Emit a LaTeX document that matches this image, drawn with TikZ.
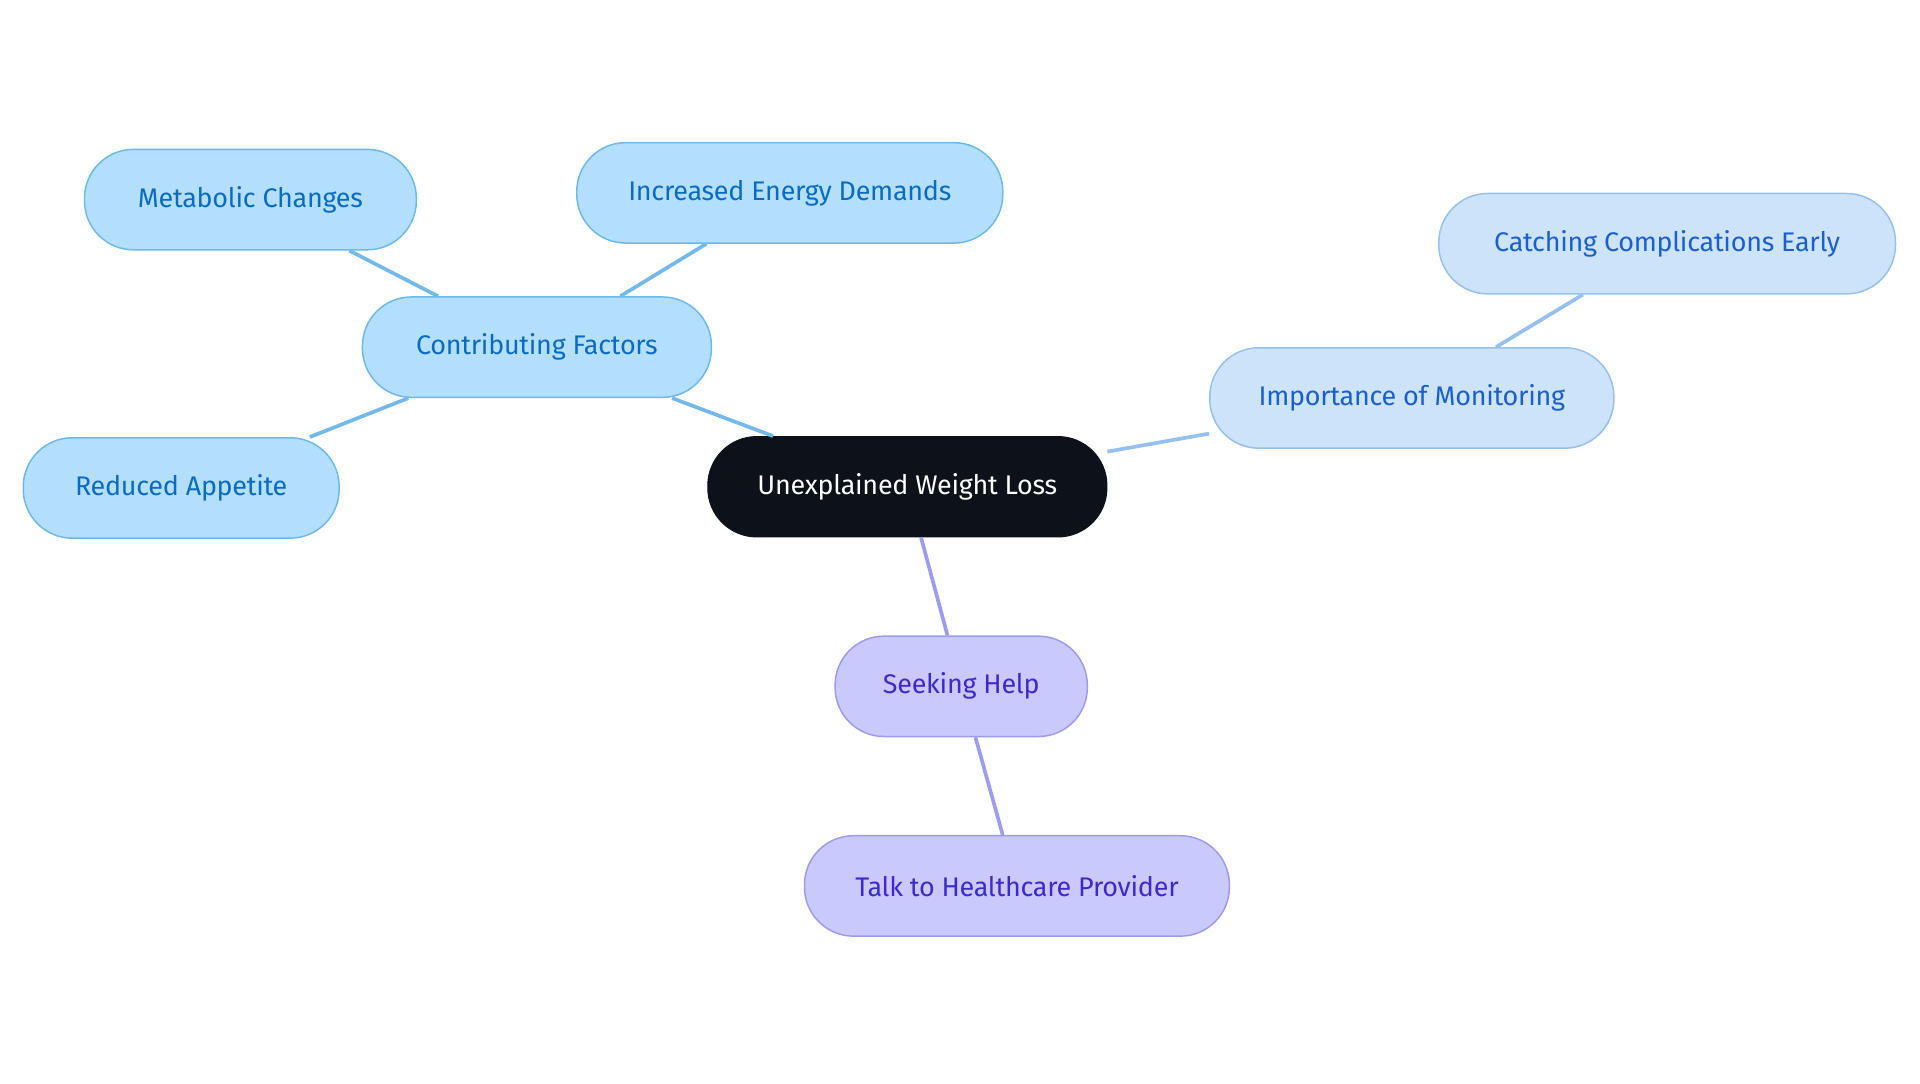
\documentclass[tikz,border=0pt]{standalone}
\usepackage{fontspec}
\setmainfont{Fira Sans}
\begin{document}
\begin{tikzpicture}[x=0.5pt,y=-0.5pt,
 box/.style={rounded corners=20pt,minimum height=41pt,font=\fontsize{11}{13}\selectfont\addfontfeature{LetterSpace=-1}},
 blue/.style={box,fill=cB,draw=dB,text=tB,line width=0.6pt},
 lb/.style={box,fill=cL,draw=dL,text=tL,line width=0.6pt},
 pu/.style={box,fill=cP,draw=dP,text=tP,line width=0.6pt},
 eb/.style={draw=eB,line width=1.5pt},
 el/.style={draw=dL,line width=1.5pt},
 ep/.style={draw=eP,line width=1.5pt}]
\definecolor{cB}{HTML}{B3DFFD}\definecolor{dB}{HTML}{6CB9EE}\definecolor{tB}{HTML}{0A6BC4}
\definecolor{cL}{HTML}{CDE3FA}\definecolor{dL}{HTML}{95C0EF}\definecolor{tL}{HTML}{1A5FCF}
\definecolor{cP}{HTML}{C9C9FD}\definecolor{dP}{HTML}{9B9BEF}\definecolor{tP}{HTML}{3A2BD0}
\definecolor{eB}{HTML}{74B9EC}\definecolor{eP}{HTML}{9A9DF0}\definecolor{cC}{HTML}{0C111A}
\useasboundingbox (0,0) rectangle (1568,885);
\node[blue,minimum width=135.5pt] (met) at (204.5,163) {Metabolic Changes};
\node[blue,minimum width=174pt] (inc) at (645,157.5) {Increased Energy Demands};
\node[blue,minimum width=142.5pt] (con) at (438.5,283.5) {Contributing Factors};
\node[blue,minimum width=129pt] (red) at (148,398.5) {Reduced Appetite};
\node[box,fill=cC,draw=cC,text=white,minimum width=163pt] (cen) at (741,397.5) {Unexplained Weight Loss};
\node[lb,minimum width=165pt] (imp) at (1153,325) {Importance of Monitoring};
\node[lb,minimum width=186.5pt] (cat) at (1361.5,199) {Catching Complications Early};
\node[pu,minimum width=103pt] (see) at (785,560.5) {Seeking Help};
\node[pu,minimum width=173.5pt] (tal) at (830.5,723.5) {Talk to Healthcare Provider};
\draw[eb] (con) -- (cen);
\draw[eb] (con) -- (met);
\draw[eb] (con) -- (inc);
\draw[eb] (con) -- (red);
\draw[el] (cen) -- (imp);
\draw[el] (imp) -- (cat);
\draw[ep] (cen) -- (see);
\draw[ep] (see) -- (tal);
\end{tikzpicture}
\end{document}
